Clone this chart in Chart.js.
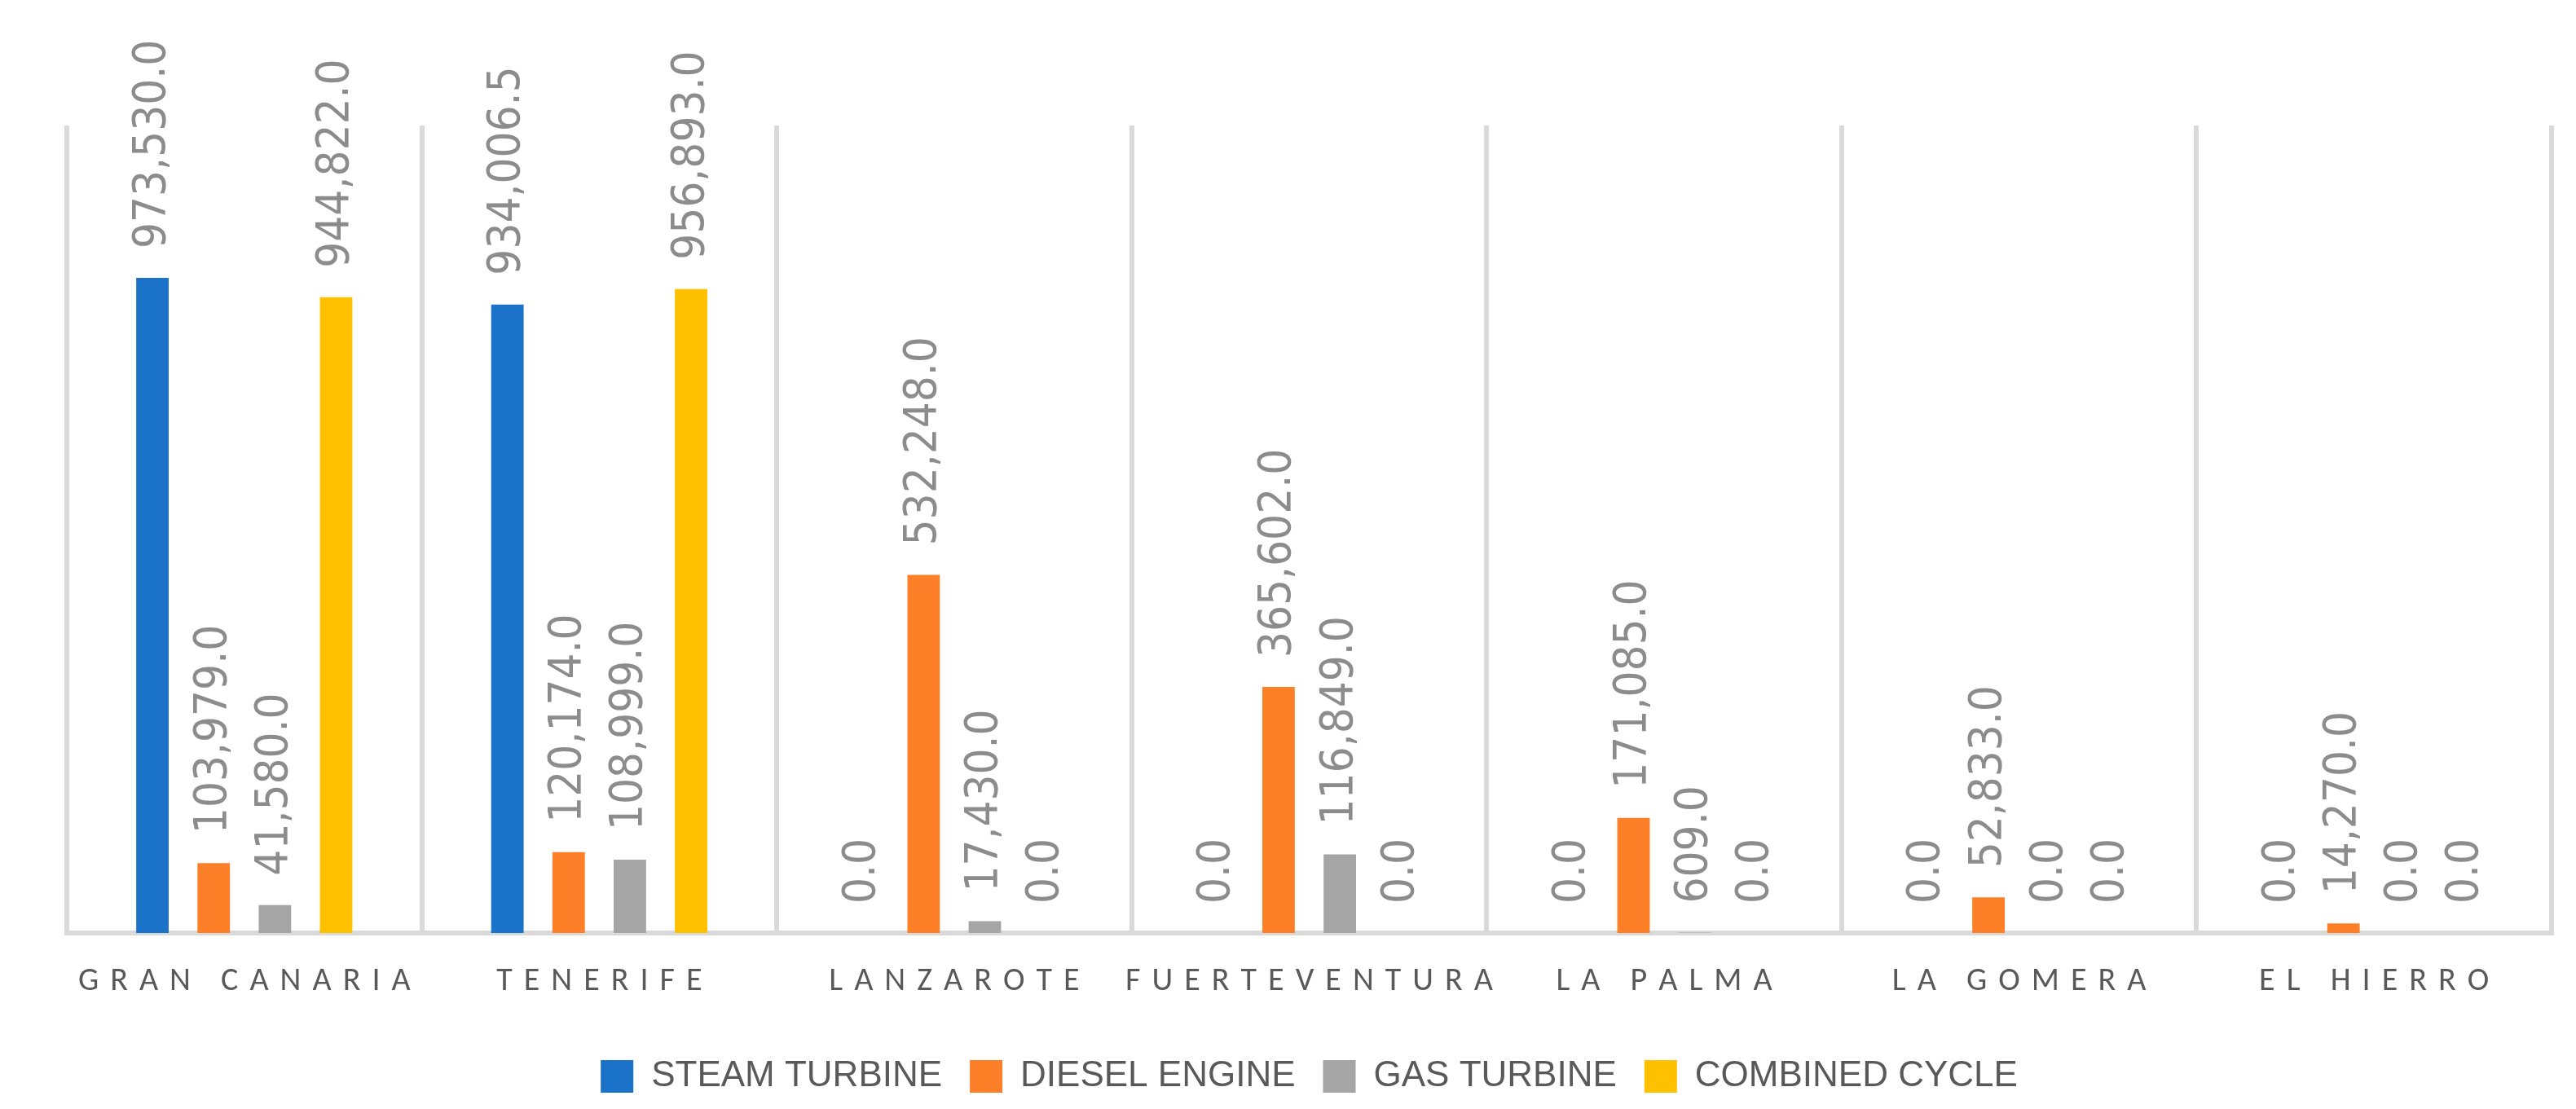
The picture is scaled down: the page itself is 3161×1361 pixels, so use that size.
<!DOCTYPE html><html><head><meta charset="utf-8">
<script src="https://cdn.jsdelivr.net/npm/chart.js@4"></script>
<style>html,body{margin:0;background:#fff}#w{width:3161px;height:1361px}</style></head><body><div id="w"><canvas id="c"></canvas></div>
<script>
const categories=["GRAN CANARIA","TENERIFE","LANZAROTE","FUERTEVENTURA","LA PALMA","LA GOMERA","EL HIERRO"];
const steamTurbine=[973530.0,934006.5,0,0,0,0,0];
const dieselEngine=[103979.0,120174.0,532248.0,365602.0,171085.0,52833.0,14270.0];
const gasTurbine=[41580.0,108999.0,17430.0,116849.0,609.0,0,0];
const combinedCycle=[944822.0,956893.0,0,0,0,0,0];
const seriesNames=["STEAM TURBINE","DIESEL ENGINE","GAS TURBINE","COMBINED CYCLE"];
const colors=["#1a73c8","#fd7f28","#a5a5a5","#ffc000"];
const fmt=v=>v.toLocaleString('en-US',{minimumFractionDigits:1,maximumFractionDigits:1});
const labelPlugin={id:'lbl',afterDatasetsDraw(ch){const ctx=ch.ctx;ctx.save();ctx.font='56px "Liberation Sans Narrow", "DejaVu Sans Condensed", sans-serif';ctx.fillStyle='#8c8c8c';ctx.textBaseline='middle';ctx.textAlign='left';
ch.data.datasets.forEach((d,i)=>{ch.getDatasetMeta(i).data.forEach((b,j)=>{ctx.save();ctx.translate(b.x,b.y-36);ctx.rotate(-Math.PI/2);ctx.fillText(fmt(d.data[j]),0,0);ctx.restore();});});ctx.restore();}};
new Chart(document.getElementById('c'),{type:'bar',
data:{labels:categories.map(s=>s.split('').join('\u200A ')),datasets:[steamTurbine,dieselEngine,gasTurbine,combinedCycle].map((d,i)=>({label:seriesNames[i],data:d,backgroundColor:colors[i],categoryPercentage:0.69,barPercentage:0.53}))},
options:{responsive:true,maintainAspectRatio:false,animation:false,
layout:{padding:{top:154,left:82,right:30,bottom:8}},
scales:{x:{offset:true,grid:{display:true,offset:true,color:'#d9d9d9',lineWidth:6,drawTicks:false},border:{display:true,color:'#d9d9d9',width:6},ticks:{color:'#595959',padding:36,font:{size:40,family:'Calibri, "Carlito", "Liberation Sans", sans-serif'},maxRotation:0,autoSkip:false}},
y:{display:false,min:0,max:1200000}},
plugins:{legend:{position:'bottom',labels:{color:'#595959',font:{size:44,family:'"Liberation Sans", sans-serif'},boxWidth:40,boxHeight:40,padding:34}},tooltip:{enabled:false}}},
plugins:[labelPlugin]});
</script></body></html>
